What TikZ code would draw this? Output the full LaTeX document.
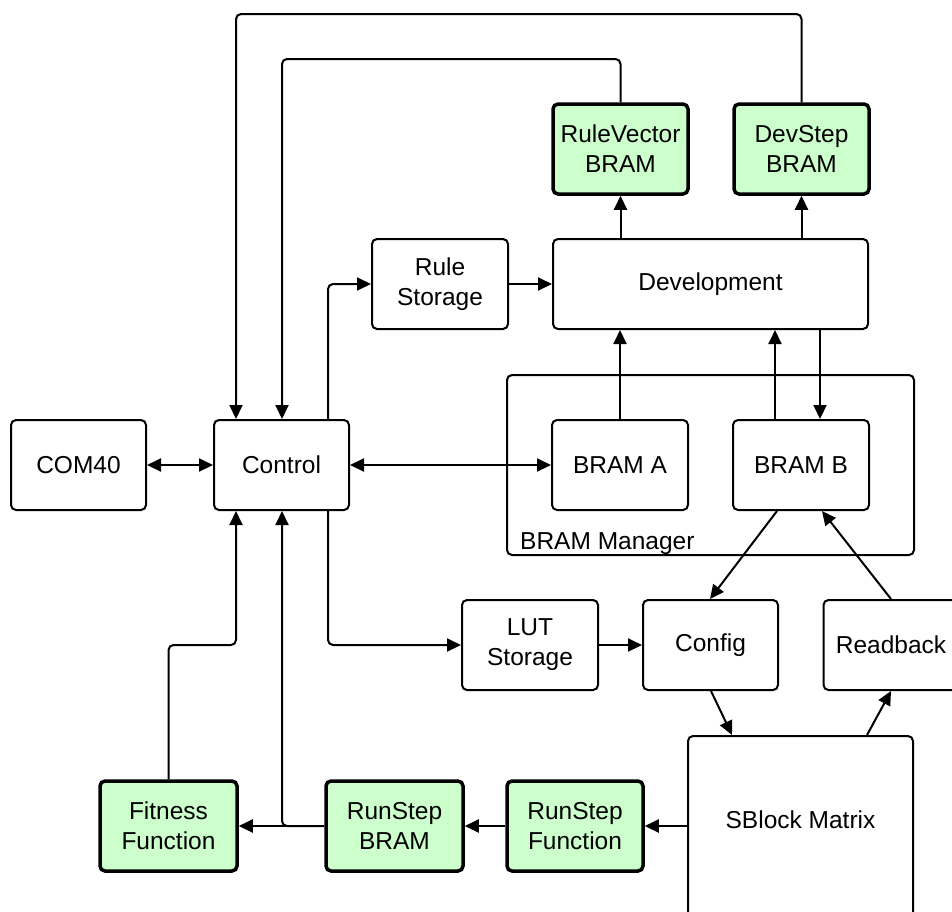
\documentclass[tikz,border=0pt]{standalone}
\usepackage{fontspec}
\setmainfont{Liberation Sans}
\usetikzlibrary{arrows.meta,calc}
\definecolor{blockgreen}{RGB}{204,255,204}
\tikzset{
  blk/.style={draw=black, line width=2pt, rounded corners=5pt, fill=white,
    minimum width=135pt, minimum height=90pt, inner sep=0pt, align=center,
    font=\fontsize{24.5}{30}\selectfont},
  gblk/.style={blk, fill=blockgreen, line width=3.5pt},
  grp/.style={draw=black, line width=2pt, rounded corners=5pt,
    minimum width=407pt, minimum height=180pt, inner sep=0pt},
  lbl/.style={inner sep=0pt, font=\fontsize{24.5}{30}\selectfont},
  arr/.style={line width=2pt, rounded corners=5pt, -{Triangle[length=14pt,width=13pt]}},
  arr2/.style={line width=2pt, {Triangle[length=14pt,width=13pt]}-{Triangle[length=14pt,width=13pt]}}
}
\begin{document}
\begin{tikzpicture}[x=1pt,y=-1pt]
\clip (0,0) rectangle (952,911);
\fill[white] (0,0) rectangle (952,911);

% BRAM manager frame
\node[grp] (mgr) at (710.5,465) {};
\node[lbl, anchor=base west] (mgrlbl) at (520,549) {BRAM Manager};

% blocks
\node[blk] (com) at (78.5,465) {COM40};
\node[blk] (ctrl) at (281.5,465) {Control};
\node[gblk] (rv) at (620.5,149) {RuleVector\\BRAM};
\node[gblk] (ds) at (801.5,149) {DevStep\\BRAM};
\node[blk, minimum width=315pt] (dev) at (710.5,284) {Development};
\node[blk, minimum width=136pt] (rs) at (440,284) {Rule\\Storage};
\node[blk, minimum width=136pt] (ba) at (620,465) {BRAM A};
\node[blk, minimum width=136pt] (bb) at (801,465) {BRAM B};
\node[blk, minimum width=136pt] (lut) at (530,645) {LUT\\Storage};
\node[blk] (cfg) at (710.5,645) {Config};
\node[blk] (rb) at (891,645) {Readback};
\node[blk, minimum width=225pt, minimum height=200pt] (sb) at (800.5,836) {};
\node[lbl] (sbtext) at (800.5,820) {SBlock Matrix};
\node[gblk, minimum width=137pt] (ff) at (168.5,826) {Fitness\\Function};
\node[gblk, minimum width=137pt] (rsb) at (394.5,826) {RunStep\\BRAM};
\node[gblk, minimum width=136pt] (rsf) at (575,826) {RunStep\\Function};

% attachment points on block edges
\coordinate (cA) at ($(ctrl.north west)+(23,0)$);
\coordinate (cB) at ($(ctrl.north west)+(69,0)$);
\coordinate (cC) at ($(ctrl.north east)+(-22,0)$);
\coordinate (cD) at ($(ctrl.south west)+(23,0)$);
\coordinate (cE) at ($(ctrl.south west)+(69,0)$);
\coordinate (cF) at ($(ctrl.south east)+(-22,0)$);
\coordinate (bbL) at ($(bb.north west)+(43,0)$);
\coordinate (bbR) at ($(bb.north west)+(88,0)$);
\coordinate (bbS1) at ($(bb.south west)+(45,0)$);
\coordinate (bbS2) at ($(bb.south west)+(90,0)$);
\coordinate (cfgN) at ($(cfg.north west)+(68,0)$);
\coordinate (cfgS) at ($(cfg.south west)+(69,0)$);
\coordinate (sbN1) at ($(sb.north west)+(45,0)$);
\coordinate (sbN2) at ($(sb.north west)+(180,0)$);

% feedback loops into Control
\draw[arr] (ds.north) -- (ds.north |- 0,14) -- (cA |- 0,14) -- (cA);
\draw[arr] (rv.north) -- (rv.north |- 0,59) -- (cB |- 0,59) -- (cB);
\draw[arr] (cC) |- (rs.west);
\draw[arr] (rs.east) -- (dev.west);
\draw[arr] (dev.north -| rv) -- (rv.south);
\draw[arr] (dev.north -| ds) -- (ds.south);
\draw[arr] (ba.north) -- (ba.north |- dev.south);
\draw[arr] (bbL) -- (bbL |- dev.south);
\draw[arr] (bbR |- dev.south) -- (bbR);
\draw[arr2] (com.east) -- (ctrl.west);
\draw[arr2] (ctrl.east) -- (ba.west);
\draw[arr] (bbS1) -- (cfgN);
\draw[arr] (rb.north) -- (bbS2);
\draw[arr] (cfgS) -- (sbN1);
\draw[arr] (sbN2) -- (rb.south);
\draw[arr] (cF) |- (lut.west);
\draw[arr] (lut.east) -- (cfg.west);
\draw[arr] (sb.west |- rsf) -- (rsf.east);
\draw[arr] (rsf.west) -- (rsb.east);
\draw[arr] (rsb.west) -- (ff.east);
\draw[arr] (rsb.west) -| (cE);
\draw[arr] (ff.north) -- (ff.north |- 0,645) -- (cD |- 0,645) -- (cD);
\end{tikzpicture}
\end{document}
